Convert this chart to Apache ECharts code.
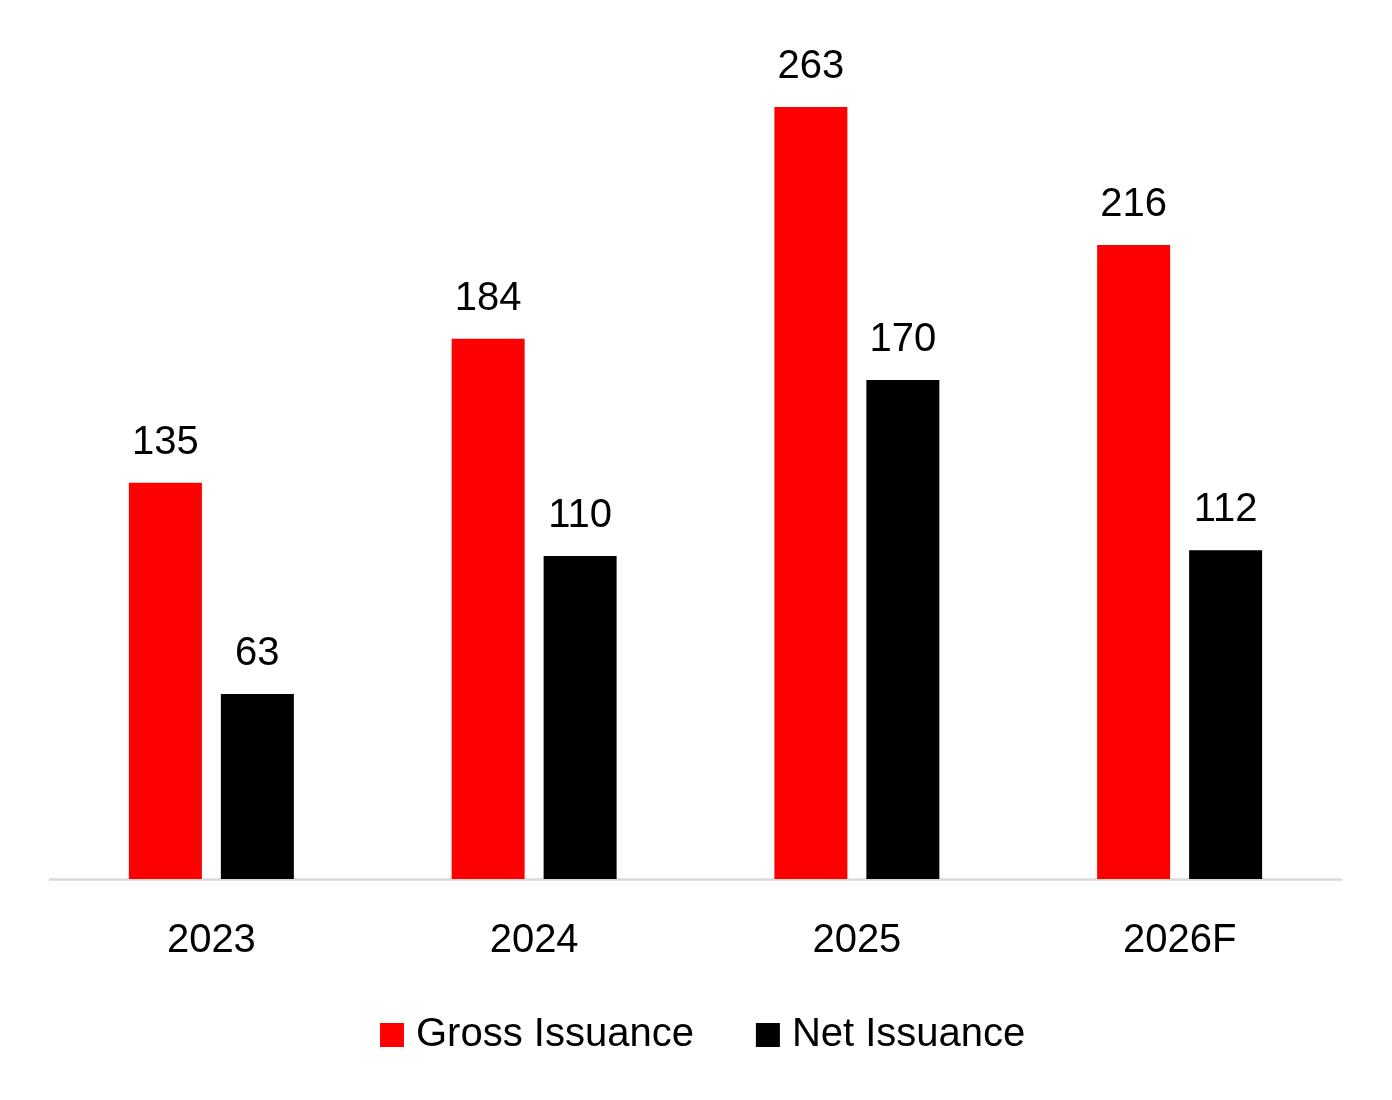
<!DOCTYPE html>
<html>
<head>
<meta charset="utf-8">
<script src="https://cdn.jsdelivr.net/npm/echarts@6/dist/echarts.min.js"></script>
<style>
html,body{margin:0;padding:0;background:#fff;}
#chart{width:1392px;height:1100px;}
</style>
</head>
<body>
<div id="chart"></div>
<script>
var categories = ['2023', '2024', '2025', '2026F'];
var grossIssuance = [135, 184, 263, 216];
var netIssuance = [63, 110, 170, 112];
var seriesNames = ['Gross Issuance', 'Net Issuance'];

var FONT = '"Liberation Sans", Arial, sans-serif';
var chart = echarts.init(document.getElementById('chart'));
chart.setOption({
  backgroundColor: '#ffffff',
  animation: false,
  grid: { left: 50, right: 51, top: 57, bottom: 221, containLabel: false },
  legend: {
    data: seriesNames,
    bottom: 45,
    left: 380,
    padding: 0,
    itemWidth: 24,
    itemHeight: 24,
    itemGap: 62,
    icon: 'rect',
    textStyle: { fontFamily: FONT, fontSize: 40, color: '#000', padding: [0, 0, 0, 7] }
  },
  xAxis: {
    type: 'category',
    data: categories,
    axisLine: { show: true, lineStyle: { color: '#d9d9d9', width: 2.5 } },
    axisTick: { show: false },
    axisLabel: { fontFamily: FONT, fontSize: 40, color: '#000', margin: 42 }
  },
  yAxis: {
    type: 'value',
    min: 0,
    max: 280,
    show: false,
    splitLine: { show: false }
  },
  series: [
    {
      name: seriesNames[0],
      type: 'bar',
      data: grossIssuance,
      barWidth: 73,
      barGap: '26%',
      itemStyle: { color: '#ff0000' },
      label: { show: true, position: 'top', distance: 20, fontFamily: FONT, fontSize: 40, color: '#000' }
    },
    {
      name: seriesNames[1],
      type: 'bar',
      data: netIssuance,
      barWidth: 73,
      barGap: '26%',
      itemStyle: { color: '#000000' },
      label: { show: true, position: 'top', distance: 20, fontFamily: FONT, fontSize: 40, color: '#000' }
    }
  ]
});
</script>
</body>
</html>
